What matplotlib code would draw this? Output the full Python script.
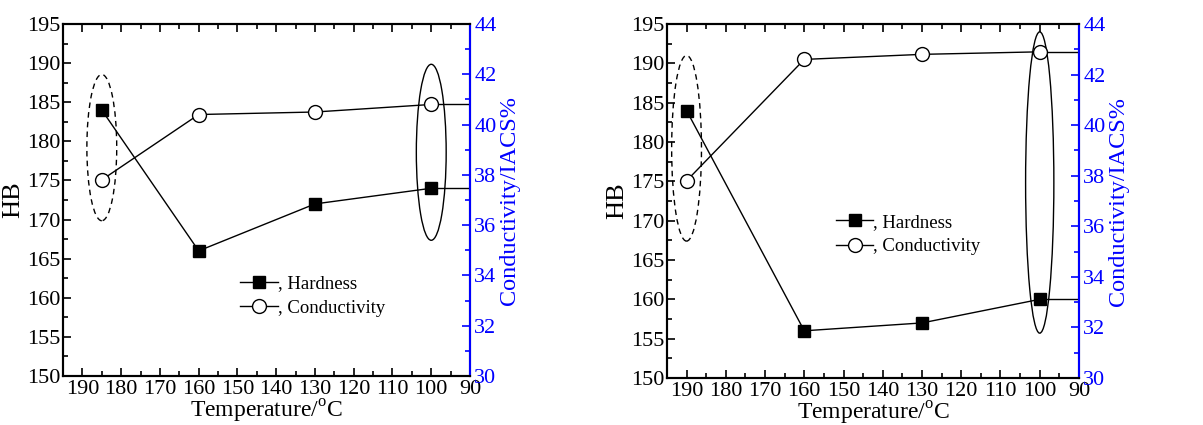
import numpy as np
import matplotlib
matplotlib.use('Agg')
import matplotlib.pyplot as plt
from matplotlib.patches import Ellipse
from matplotlib.lines import Line2D
from matplotlib.ticker import MultipleLocator

plt.rcParams['font.family'] = ['Liberation Serif', 'DejaVu Serif']
plt.rcParams['mathtext.fontset'] = 'custom'
plt.rcParams['mathtext.rm'] = 'Liberation Serif'

# left panel
temp_a = [185, 160, 130, 100]
hard_a = [184, 166, 172, 174]
cond_a = [37.8, 40.4, 40.5, 40.8]

# right panel
temp_b = [190, 160, 130, 100]
hard_b = [184, 156, 157, 160]
cond_b = [37.8, 42.6, 42.8, 42.9]

xticks = [190, 180, 170, 160, 150, 140, 130, 120, 110, 100, 90]

fig = plt.figure(figsize=(12.03, 4.25), dpi=100)


def panel(rect, temps, hard, cond, ell_dash, ell_solid, leg_pos):
    ax = fig.add_axes(rect)
    ax2 = ax.twinx()
    ax.set_xlim(195, 90)
    ax.set_ylim(150, 195)
    ax2.set_ylim(30, 44)
    xr = ax.get_xlim()[1]

    # horizontal tails to the right border
    ax.plot([temps[-1], xr], [hard[-1], hard[-1]], color='black', lw=1)
    ax2.plot([temps[-1], xr], [cond[-1], cond[-1]], color='black', lw=1)
    ax.plot(temps, hard, color='black', lw=1, marker='s', ms=8.5,
            mfc='black', mec='black', zorder=3)
    ax2.plot(temps, cond, color='black', lw=1, marker='o', ms=10,
             mfc='white', mec='black', mew=1, zorder=3)

    cx, cy, w, h = ell_dash
    ax.add_patch(Ellipse((cx, cy), w, h, fill=False, ls=(0, (4, 3)), lw=1, ec='black'))
    cx, cy, w, h = ell_solid
    ax.add_patch(Ellipse((cx, cy), w, h, fill=False, lw=1, ec='black'))

    ax.xaxis.set_minor_locator(MultipleLocator(5))
    ax.set_xticks(xticks)
    ax.yaxis.set_major_locator(MultipleLocator(5))
    ax.yaxis.set_minor_locator(MultipleLocator(2.5))
    ax2.yaxis.set_major_locator(MultipleLocator(2))
    ax2.yaxis.set_minor_locator(MultipleLocator(1))

    ax.tick_params(axis='x', which='both', direction='in', top=True, bottom=True)
    ax.tick_params(which='major', length=6, width=1.2, labelsize=16, pad=3)
    ax.tick_params(which='minor', length=3.5, width=1.2)
    ax.tick_params(axis='y', which='both', direction='in', right=False, pad=2)
    ax2.tick_params(axis='y', which='both', direction='in', colors='blue',
                    labelsize=16, pad=3)
    ax2.tick_params(which='major', length=6, width=1.2)
    ax2.tick_params(which='minor', length=3.5, width=1.2)
    for s in ax.spines.values():
        s.set_linewidth(1.5)
    for s in ax2.spines.values():
        s.set_linewidth(1.5)
    ax2.spines['right'].set_color('blue')

    ax.set_xlabel('Temperature/$^{\\rm o}$C', fontsize=17, labelpad=-1)
    ax.set_ylabel('HB', fontsize=19, labelpad=2)
    ax2.set_ylabel('Conductivity/IACS%', fontsize=17.5, color='blue', labelpad=2)

    h1 = Line2D([], [], color='black', lw=1, marker='s', ms=8.5, mfc='black', mec='black')
    h2 = Line2D([], [], color='black', lw=1, marker='o', ms=10, mfc='white', mec='black')
    ax2.legend([h1, h2], [', Hardness', ', Conductivity'], loc='upper left',
               bbox_to_anchor=leg_pos, frameon=False, fontsize=13.5,
               handlelength=2.0, handletextpad=0.0, labelspacing=0.4,
               borderpad=0, borderaxespad=0)
    return ax, ax2


panel([0.0524, 0.1153, 0.3383, 0.8282], temp_a, hard_a, cond_a,
      (185, 179.2, 7.7, 18.7), (100, 178.6, 7.7, 22.5), (0.435, 0.287))
panel([0.5544, 0.1106, 0.3425, 0.8329], temp_b, hard_b, cond_b,
      (190, 179.2, 7.6, 23.6), (100, 174.85, 7.2, 38.3), (0.41, 0.464))

fig.savefig('out.png', dpi=100)
